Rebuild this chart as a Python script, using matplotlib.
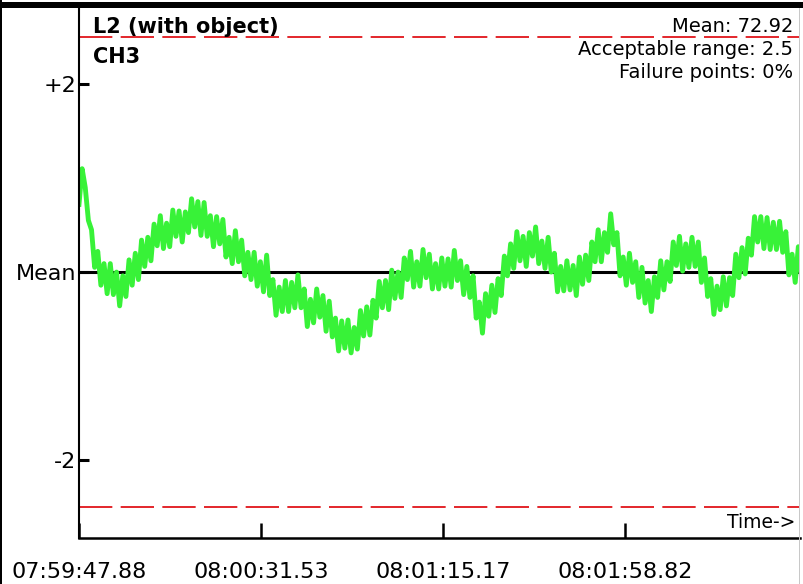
import numpy as np
import matplotlib
matplotlib.use("Agg")
import matplotlib.pyplot as plt
from matplotlib.patches import Rectangle

# ==========================
# Data (deviation from mean, sampled every 0.75 s)
# ==========================

title = "L2 (with object)"
channel = "CH3"
mean_value = 72.92
acceptable_range = 2.5
failure_pct = 0

deviation = [
    0.72, 1.10, 0.90, 0.55, 0.45, 0.05, 0.22, -0.14, 0.09, -0.23,
    0.09, -0.24, 0.00, -0.36, -0.04, -0.26, 0.13, -0.14, 0.20, -0.08,
    0.34, 0.06, 0.37, 0.12, 0.51, 0.28, 0.60, 0.25, 0.52, 0.27,
    0.66, 0.38, 0.65, 0.32, 0.64, 0.42, 0.78, 0.48, 0.75, 0.39,
    0.74, 0.38, 0.60, 0.27, 0.59, 0.30, 0.56, 0.16, 0.37, 0.09,
    0.44, 0.11, 0.34, -0.04, 0.21, -0.08, 0.21, -0.15, 0.11, -0.21,
    0.18, -0.25, -0.08, -0.46, -0.16, -0.42, -0.09, -0.42, -0.11, -0.38,
    -0.03, -0.38, -0.18, -0.58, -0.29, -0.54, -0.18, -0.48, -0.25, -0.63,
    -0.31, -0.69, -0.49, -0.84, -0.52, -0.81, -0.51, -0.86, -0.59, -0.82,
    -0.41, -0.68, -0.37, -0.67, -0.30, -0.49, -0.10, -0.38, -0.09, -0.40,
    0.02, -0.28, 0.00, -0.27, 0.15, -0.08, 0.22, -0.16, 0.11, -0.15,
    0.24, -0.06, 0.19, -0.18, 0.09, -0.18, 0.15, -0.15, 0.14, -0.16,
    0.23, -0.09, 0.12, -0.24, 0.06, -0.27, -0.04, -0.49, -0.32, -0.65,
    -0.23, -0.47, -0.14, -0.43, -0.07, -0.25, 0.17, -0.04, 0.30, 0.04,
    0.43, 0.12, 0.38, 0.06, 0.42, 0.17, 0.48, 0.09, 0.33, 0.04,
    0.37, 0.00, 0.20, -0.21, 0.06, -0.20, 0.12, -0.19, 0.07, -0.25,
    0.16, -0.13, 0.18, -0.09, 0.32, 0.11, 0.45, 0.11, 0.42, 0.21,
    0.62, 0.29, 0.42, -0.04, 0.16, -0.14, 0.20, -0.11, 0.11, -0.27,
    0.05, -0.33, -0.09, -0.42, -0.05, -0.27, 0.12, -0.19, 0.11, -0.10,
    0.32, 0.07, 0.38, 0.01, 0.30, 0.05, 0.37, 0.06, 0.32, -0.11,
    0.15, -0.26, -0.07, -0.45, -0.15, -0.40, -0.05, -0.36, -0.06, -0.25,
    0.19, -0.06, 0.26, -0.02, 0.36, 0.18, 0.59, 0.32, 0.59, 0.25,
    0.58, 0.24, 0.53, 0.24, 0.54, 0.21, 0.43, -0.03, 0.19, -0.11,
    0.27, -0.03, 0.24,
]
sample_step = 0.75
t = np.arange(len(deviation)) * sample_step

tick_seconds = [0, 43.65, 87.29, 130.94]
tick_labels = ["07:59:47.88", "08:00:31.53", "08:01:15.17", "08:01:58.82"]

y_ticks = [2, 0, -2]
y_labels = ["+2", "Mean", "-2"]

# ==========================
# Figure
# ==========================

W, H = 804, 584
plt.rcParams["lines.scale_dashes"] = False


def fx(px):
    return px / W


def fy(py):
    return 1 - py / H


fig = plt.figure(figsize=(W / 100, H / 100), dpi=100)
ax = fig.add_axes([fx(79), fy(538), (800 - 79) / W, (538 - 8) / H])

ax.axhline(0, color="black", lw=2.2, zorder=1)
for lim in (acceptable_range, -acceptable_range):
    ax.axhline(lim, color="#e3262b", lw=1.4, dashes=(24, 6),
               dash_capstyle="butt", zorder=1)
ax.plot(t, deviation, color="#38f238", lw=3.5, zorder=2)

ax.set_xlim(0, 172.9)
ax.set_ylim(-2.83, 2.81)

for side in ("top", "right"):
    ax.spines[side].set_visible(False)
ax.spines["left"].set_linewidth(1.5)
ax.spines["bottom"].set_linewidth(1.8)

ax.set_yticks(y_ticks, y_labels)
ax.set_xticks(tick_seconds, tick_labels)
ax.tick_params(axis="y", direction="in", length=7.5, width=2.2,
               labelsize=16, pad=2)
ax.tick_params(axis="x", direction="in", length=11, width=1.8,
               labelsize=16, pad=17)

# ==========================
# Annotations
# ==========================

fig.text(fx(93), fy(33), title, fontsize=15, fontweight="bold",
         ha="left", va="baseline")
fig.text(fx(93), fy(63), channel, fontsize=15, fontweight="bold",
         ha="left", va="baseline")

info = [f"Mean: {mean_value}",
        f"Acceptable range: {acceptable_range}",
        f"Failure points: {failure_pct}%"]
for k, line in enumerate(info):
    fig.text(fx(793), fy(32 + 23 * k), line, fontsize=14,
             ha="right", va="baseline")

fig.text(fx(795), fy(528), "Time->", fontsize=13.5, ha="right", va="baseline")

# frame pieces around the plot
fig.add_artist(Rectangle((0, fy(8)), 1, 6 / H, transform=fig.transFigure,
                         color="black", lw=0))
fig.add_artist(Rectangle((0, 0), 2 / W, 1, transform=fig.transFigure,
                         color="black", lw=0))
fig.add_artist(Rectangle((fx(799), 0), 1.5 / W, fy(8), transform=fig.transFigure,
                         color="#c8c8c8", lw=0))

fig.savefig("out.png", dpi=100)
